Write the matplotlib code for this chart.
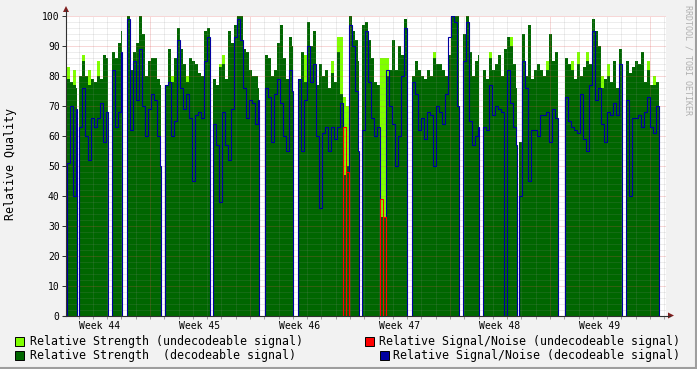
import numpy as np
import matplotlib.pyplot as plt
from matplotlib.patches import Rectangle, Polygon
from matplotlib.lines import Line2D

plt.rcParams['font.family'] = ['DejaVu Sans Mono']

W, H = 697, 369

# time in days since the start of week 44, one sample every 0.21 days
step = 0.21

# runs of data between the white gaps
seg_start = [1.155, 2.051, 4.361, 5.39, 8.071, 11.431, 15.071, 17.381,
             21.861, 25.34, 28.889, 30.331, 32.83, 36.05, 40.32]
seg_end = [1.911, 4.039, 5.061, 7.77, 11.2, 14.651, 17.031, 21.651,
           24.99, 28.651, 30.051, 32.69, 35.56, 40.019, 42.651]

# relative strength (decodeable signal), one list per run
strength = [
    [79, 78, 77, 76],
    [80, 85, 80, 77, 79, 78, 80, 79, 87, 86],
    [88, 86, 91, 95],
    [100, 82, 88, 91, 100, 94, 80, 85, 86, 86, 79, 77],
    [77, 89, 78, 86, 96, 89, 84, 78, 86, 85, 84, 81, 80, 95, 96],
    [79, 77, 83, 84, 79, 95, 91, 97, 100, 100, 89, 88, 82, 80, 80, 76],
    [87, 86, 80, 82, 91, 97, 86, 79, 93, 90],
    [79, 88, 78, 98, 90, 95, 77, 84, 80, 82, 76, 81, 78, 88, 74, 47, 50, 100, 95, 92, 85],
    [97, 98, 92, 86, 78, 77, 33, 33, 80, 82, 92, 82, 90, 87, 99],
    [80, 85, 82, 80, 79, 82, 80, 86, 84, 84, 82, 80, 87, 100, 100, 100],
    [94, 100, 88, 80, 85, 87],
    [82, 79, 86, 82, 84, 87, 80, 89, 93, 90, 84, 76],
    [58, 94, 80, 97, 79, 82, 84, 82, 80, 82, 94, 85, 88],
    [86, 84, 82, 79, 84, 80, 83, 85, 84, 99, 95, 90, 76, 79, 80, 78, 85, 76, 89],
    [85, 81, 83, 85, 84, 88, 78, 82, 77, 77, 78, 75],
]

# relative signal/noise (decodeable signal)
snr = [
    [51, 70, 40, 69],
    [63, 76, 60, 52, 66, 63, 66, 71, 58, 68],
    [82, 63, 68, 88],
    [99, 62, 85, 72, 89, 70, 60, 69, 74, 72, 60, 50],
    [77, 78, 60, 65, 92, 76, 69, 74, 66, 45, 67, 68, 66, 85, 93],
    [64, 57, 38, 68, 57, 52, 69, 93, 99, 92, 76, 66, 72, 71, 64, 72],
    [76, 73, 58, 74, 79, 71, 60, 55, 82, 75],
    [79, 55, 72, 90, 78, 84, 60, 36, 61, 63, 55, 63, 59, 63, 71, 0, 0, 97, 90, 75, 55],
    [62, 95, 78, 66, 60, 63, 0, 0, 82, 70, 64, 50, 60, 80, 96],
    [78, 74, 62, 66, 59, 68, 67, 50, 70, 68, 64, 74, 93, 100, 98, 70],
    [85, 98, 65, 57, 60, 63],
    [63, 62, 77, 67, 70, 69, 68, 0, 82, 71, 63, 57],
    [40, 85, 76, 45, 62, 62, 60, 67, 67, 68, 58, 69, 66],
    [73, 65, 63, 62, 61, 74, 59, 55, 77, 95, 72, 76, 64, 58, 68, 67, 71, 67, 84],
    [72, 40, 66, 66, 67, 63, 68, 73, 63, 61, 70, 55],
]

# undecodeable signal: strength peaks and signal/noise
undec_day = [1.155, 1.575, 2.261, 2.681, 3.311, 8.491, 9.541, 11.851, 12.061,
             17.801, 18.431, 19.691, 20.111, 20.321, 20.531, 20.741, 23.121,
             23.331, 23.541, 26.81, 30.751, 32.221, 34.72, 36.47, 36.89, 37.52,
             38.57, 38.99, 41.79, 42.21]
undec_strength = [83, 82, 87, 82, 85, 80, 80, 84, 87, 87, 89, 85, 93, 93, 73,
                  70, 86, 86, 86, 88, 88, 93, 85, 85, 88, 88, 80, 84, 85, 80]
undec_snr_day = [20.531, 20.741, 23.121, 23.331]
undec_snr = [63, 48, 39, 33]

week_labels = ['Week 44', 'Week 45', 'Week 46', 'Week 47', 'Week 48', 'Week 49']

C_LIGHT = '#80FF00'
C_DARK = '#006600'
C_BLUE = '#0000A0'
C_RED = '#FF0000'


def fx(x):
    return x / W


def fy(y):
    return 1 - y / H


fig = plt.figure(figsize=(W / 100, H / 100), dpi=100, facecolor='#F2F2F2')
ax = fig.add_axes([fx(66), fy(315.5), 600 / W, 300 / H])
ax.set_facecolor('white')
ax.set_xlim(1.12, 43.12)
ax.set_ylim(0, 100)

# undecodeable strength underneath
ax.bar(undec_day, undec_strength, width=step, align='edge', color=C_LIGHT,
       linewidth=0, zorder=1)

for s, e, st, sn in zip(seg_start, seg_end, strength, snr):
    edges = np.append(s + step * np.arange(len(st)), e)
    ax.stairs(st, edges, fill=True, color=C_DARK, linewidth=0, zorder=2)
    ax.stairs(sn, edges, baseline=0, fill=False, color=C_BLUE, linewidth=0.8, zorder=4)

for d, v in zip(undec_snr_day, undec_snr):
    ax.stairs([v], [d, d + step], baseline=0, fill=False, color=C_RED,
              linewidth=0.8, zorder=5)

# grid (drawn over the areas like rrdtool does)
days = np.arange(2, 44)
minor_days = [d for d in days if d % 7]
major_days = [d for d in days if d % 7 == 0]
ax.vlines(minor_days, 0, 100, colors='#8F8F8F', alpha=0.3, linewidth=0.72,
          linestyles=(0, (1, 1)), zorder=3)
ax.vlines(major_days, 0, 100, colors='#DE4F4F', alpha=0.45, linewidth=0.72,
          linestyles=(0, (1, 1)), zorder=3)
ys = np.arange(2, 101, 2)
ax.hlines([y for y in ys if y % 10], 1.12, 43.12, colors='#8F8F8F', alpha=0.3,
          linewidth=0.72, linestyles=(0, (1, 1)), zorder=3)
ax.hlines([y for y in ys if y % 10 == 0], 1.12, 43.12, colors='#DE4F4F', alpha=0.45,
          linewidth=0.72, linestyles=(0, (1, 1)), zorder=3)

for sp in ax.spines.values():
    sp.set_visible(False)

ax.set_yticks(np.arange(0, 101, 10))
ax.tick_params(axis='y', length=3, width=0.7, color='#303030', pad=1.5, labelsize=7)
ax.set_xticks(np.arange(3.5, 42, 7))
ax.set_xticklabels(week_labels)
ax.tick_params(axis='x', which='major', length=0, pad=4, labelsize=7)
ax.set_xticks(days, minor=True)
ax.tick_params(axis='x', which='minor', length=2, width=0.6, color='#8F8F8F')

# axis lines and arrows
fig.add_artist(Line2D([fx(66), fx(66)], [fy(315.5), fy(10)], color='#303030', lw=0.8))
fig.add_artist(Line2D([fx(63), fx(670)], [fy(315.5), fy(315.5)], color='#303030', lw=0.8))
fig.add_artist(Polygon([(fx(63), fy(12)), (fx(69), fy(12)), (fx(66), fy(6))],
                       closed=True, color='#801F1F', lw=0))
fig.add_artist(Polygon([(fx(668), fy(312.5)), (fx(668), fy(318.5)), (fx(674), fy(315.5))],
                       closed=True, color='#801F1F', lw=0))

fig.text(fx(11), fy(164), 'Relative Quality', rotation=90, ha='center', va='center',
         fontsize=8.4)
fig.text(fx(688), fy(60), 'RRDTOOL / TOBI OETIKER', rotation=-90, ha='center',
         va='center', fontsize=6, color='#B0B0B0')

# legend
legend_left = [(C_LIGHT, 'Relative Strength (undecodeable signal)', 341),
               (C_DARK, 'Relative Strength  (decodeable signal)', 355)]
for col, txt, yc in legend_left:
    fig.add_artist(Rectangle((fx(15), fy(yc + 4.5)), 8.5 / W, 8.5 / H, facecolor=col,
                             edgecolor='black', lw=0.7))
    fig.text(fx(30), fy(yc), txt, ha='left', va='center', fontsize=8.4)

legend_right = [(C_RED, 'Relative Signal/Noise (undecodeable signal)', 341, 365),
                (C_BLUE, 'Relative Signal/Noise (decodeable signal)', 355, 380)]
for col, txt, yc, xs in legend_right:
    fig.add_artist(Rectangle((fx(xs), fy(yc + 4.5)), 8.5 / W, 8.5 / H, facecolor=col,
                             edgecolor='black', lw=0.7))
    fig.text(fx(680), fy(yc), txt, ha='right', va='center', fontsize=8.4)

# frame shading
fig.add_artist(Line2D([0, 1], [fy(368), fy(368)], color='#9E9E9E', lw=1.5))
fig.add_artist(Line2D([fx(696), fx(696)], [0, 1], color='#9E9E9E', lw=1.5))

fig.savefig('out.png', dpi=100, facecolor=fig.get_facecolor())
